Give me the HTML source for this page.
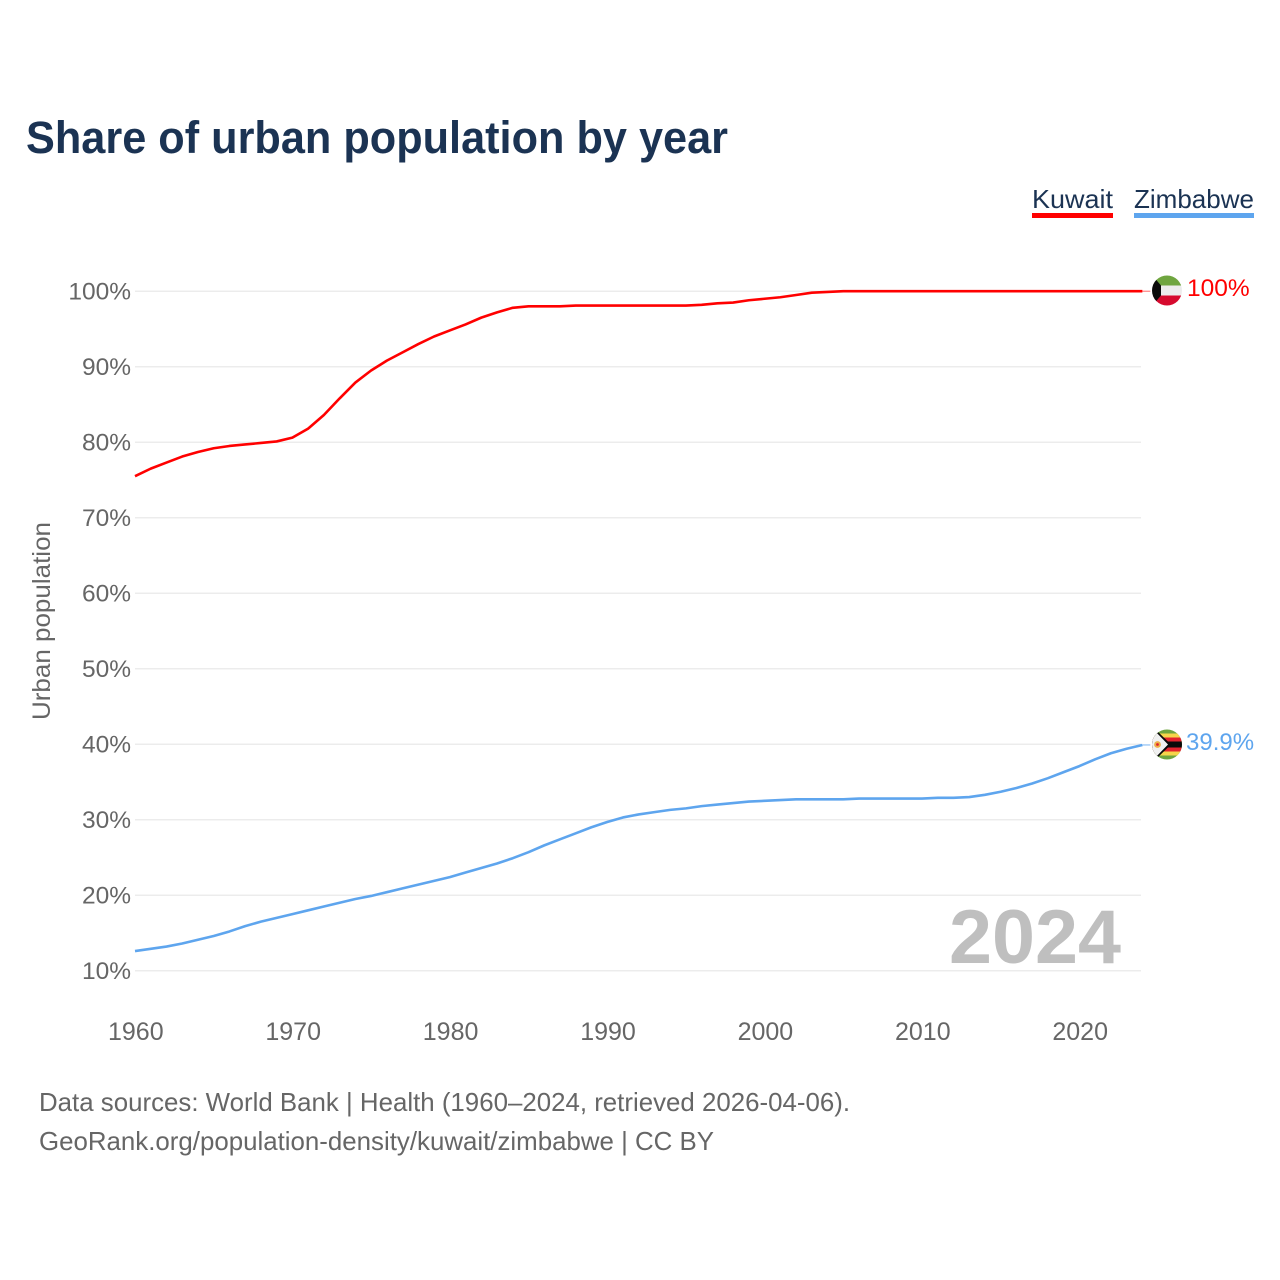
<!DOCTYPE html>
<html lang="en">
<head>
<meta charset="utf-8">
<title>Share of urban population by year</title>
<style>
html,body{margin:0;padding:0;background:#fff;width:1280px;height:1280px;overflow:hidden}
svg{display:block}
text{font-family:"Liberation Sans",sans-serif}
</style>
</head>
<body>
<svg id="chart" width="1280" height="1280" viewBox="0 0 1280 1280" xmlns="http://www.w3.org/2000/svg">
  <defs>
    <clipPath id="kw-clip"><circle cx="1167" cy="290.5" r="15"/></clipPath>
    <clipPath id="zw-clip"><circle cx="1167" cy="744.5" r="15"/></clipPath>
  </defs>
  <rect width="1280" height="1280" fill="#fff"/>
  <text x="26" y="153" font-size="45" font-weight="700" fill="#1b3353" textLength="702" lengthAdjust="spacingAndGlyphs">Share of urban population by year</text>

  <g>
    <g>
      <text x="1032" y="208" font-size="26" fill="#1b3353" textLength="81" lengthAdjust="spacingAndGlyphs">Kuwait</text>
      <rect x="1032" y="213" width="81" height="5" fill="#ff0000"/>
    </g>
    <g>
      <text x="1134" y="208" font-size="26" fill="#1b3353" textLength="120" lengthAdjust="spacingAndGlyphs">Zimbabwe</text>
      <rect x="1134" y="213" width="120" height="5" fill="#5ea5ee"/>
    </g>
  </g>

  <g id="grid"></g>
  <g id="y-axis"></g>
  <g id="x-axis"></g>
  <text transform="translate(50,621) rotate(-90)" text-anchor="middle" font-size="25" fill="#666" textLength="198" lengthAdjust="spacingAndGlyphs">Urban population</text>

  <text x="949" y="963" font-size="76" font-weight="700" fill="#bfbfbf" textLength="172" lengthAdjust="spacingAndGlyphs">2024</text>

  <g id="series"></g>

  <g clip-path="url(#kw-clip)">
    <rect x="1150" y="275" width="34" height="10.5" fill="#6fa53f"/>
    <rect x="1150" y="285.5" width="34" height="10" fill="#ececec"/>
    <rect x="1150" y="295.5" width="34" height="11" fill="#d60a2e"/>
    <polygon points="1150,275 1152,275 1161,285.5 1161,295.5 1152,306 1150,306" fill="#0a0a0a"/>
  </g>
  <g clip-path="url(#zw-clip)">
    <rect x="1150" y="729" width="34" height="32" fill="#6fa53f"/>
    <rect x="1150" y="733.5" width="34" height="4" fill="#f6d54a"/>
    <rect x="1150" y="737.5" width="34" height="4" fill="#e2232e"/>
    <rect x="1150" y="741.5" width="34" height="6" fill="#0a0a0a"/>
    <rect x="1150" y="747.5" width="34" height="4" fill="#e2232e"/>
    <rect x="1150" y="751.5" width="34" height="4" fill="#f6d54a"/>
    <polygon points="1150,729 1155,729 1171,744.5 1155,760 1150,760" fill="#0a0a0a"/>
    <polygon points="1150,729 1153,729 1168,744.5 1153,760 1150,760" fill="#f1f1f1"/>
    <circle cx="1157.5" cy="744.5" r="3.4" fill="#eeb04a"/>
    <circle cx="1157.5" cy="744.5" r="1.4" fill="#e2232e"/>
  </g>
  <text id="label-kw" x="1187" y="296" font-size="24.5" fill="#ff0000"></text>
  <text id="label-zw" x="1186" y="750" font-size="24" fill="#5ea5ee"></text>

  <text x="39" y="1111" font-size="26" fill="#666" textLength="811" lengthAdjust="spacingAndGlyphs">Data sources: World Bank | Health (1960–2024, retrieved 2026-04-06).</text>
  <text x="39" y="1150" font-size="26" fill="#666" textLength="675" lengthAdjust="spacingAndGlyphs">GeoRank.org/population-density/kuwait/zimbabwe | CC BY</text>
</svg>
<script>
const startYear = 1960;
const yTicks = [10, 20, 30, 40, 50, 60, 70, 80, 90, 100];
const xTicks = [1960, 1970, 1980, 1990, 2000, 2010, 2020];
const kuwaitValues = [
  75.5, 76.5, 77.3, 78.1, 78.7, 79.2, 79.5, 79.7, 79.9, 80.1,
  80.6, 81.8, 83.6, 85.8, 87.9, 89.5, 90.8, 91.9, 93.0, 94.0,
  94.8, 95.6, 96.5, 97.2, 97.8, 98.0, 98.0, 98.0, 98.1, 98.1,
  98.1, 98.1, 98.1, 98.1, 98.1, 98.1, 98.2, 98.4, 98.5, 98.8,
  99.0, 99.2, 99.5, 99.8, 99.9, 100, 100, 100, 100, 100,
  100, 100, 100, 100, 100, 100, 100, 100, 100, 100,
  100, 100, 100, 100, 100
];
const zimbabweValues = [
  12.6, 12.9, 13.2, 13.6, 14.1, 14.6, 15.2, 15.9, 16.5, 17.0,
  17.5, 18.0, 18.5, 19.0, 19.5, 19.9, 20.4, 20.9, 21.4, 21.9,
  22.4, 23.0, 23.6, 24.2, 24.9, 25.7, 26.6, 27.4, 28.2, 29.0,
  29.7, 30.3, 30.7, 31.0, 31.3, 31.5, 31.8, 32.0, 32.2, 32.4,
  32.5, 32.6, 32.7, 32.7, 32.7, 32.7, 32.8, 32.8, 32.8, 32.8,
  32.8, 32.9, 32.9, 33.0, 33.3, 33.7, 34.2, 34.8, 35.5, 36.3,
  37.1, 38.0, 38.8, 39.4, 39.9
];
const kuwaitLabel = "100%";
const zimbabweLabel = "39.9%";

const NS = "http://www.w3.org/2000/svg";
const xScale = function (year) { return 135 + (year - 1960) * 15.74; };
const yScale = function (v) { return 970.7 - (v - 10) * 7.55; };

function make(tag, attrs, parent) {
  const el = document.createElementNS(NS, tag);
  for (const k in attrs) el.setAttribute(k, attrs[k]);
  parent.appendChild(el);
  return el;
}

const gridG = document.getElementById("grid");
const yG = document.getElementById("y-axis");
const xG = document.getElementById("x-axis");
const seriesG = document.getElementById("series");

yTicks.forEach(function (t) {
  const line = make("line", { x1: 135, x2: 1141, y1: yScale(t), y2: yScale(t), stroke: "#ececec", "stroke-width": 1.5 }, gridG);
  
  
  const label = make("text", { x: 131, y: yScale(t) + 8.5, "text-anchor": "end", "font-size": 24.5, fill: "#666" }, yG);
  
  
  label.textContent = t + "%";
});

xTicks.forEach(function (t) {
  const label = make("text", { x: xScale(t) + 0.8, y: 1040, "text-anchor": "middle", "font-size": 25, fill: "#666" }, xG);
  
  
  label.textContent = t;
});

function linePath(values) {
  return values.map(function (v, i) {
    return (i ? "L" : "M") + xScale(startYear + i).toFixed(2) + " " + yScale(v).toFixed(2);
  }).join(" ");
}

function tailPath(values) {
  const last = values[values.length - 1];
  const lastYear = startYear + values.length - 1;
  return "M" + xScale(lastYear) + " " + yScale(last) + " h8";
}

const kuwaitLine = make("path", { d: linePath(kuwaitValues), fill: "none", stroke: "#ff0000", "stroke-width": 2.6, "stroke-linejoin": "round" }, seriesG);


const kuwaitTail = make("path", { d: tailPath(kuwaitValues), fill: "none", stroke: "#ff0000", "stroke-width": 1, opacity: 0.6 }, seriesG);



const zimbabweLine = make("path", { d: linePath(zimbabweValues), fill: "none", stroke: "#5ea5ee", "stroke-width": 2.6, "stroke-linejoin": "round" }, seriesG);


const zimbabweTail = make("path", { d: tailPath(zimbabweValues), fill: "none", stroke: "#5ea5ee", "stroke-width": 1.2, opacity: 0.7 }, seriesG);



document.getElementById("label-kw").textContent = kuwaitLabel;
document.getElementById("label-zw").textContent = zimbabweLabel;
</script>
</body>
</html>
